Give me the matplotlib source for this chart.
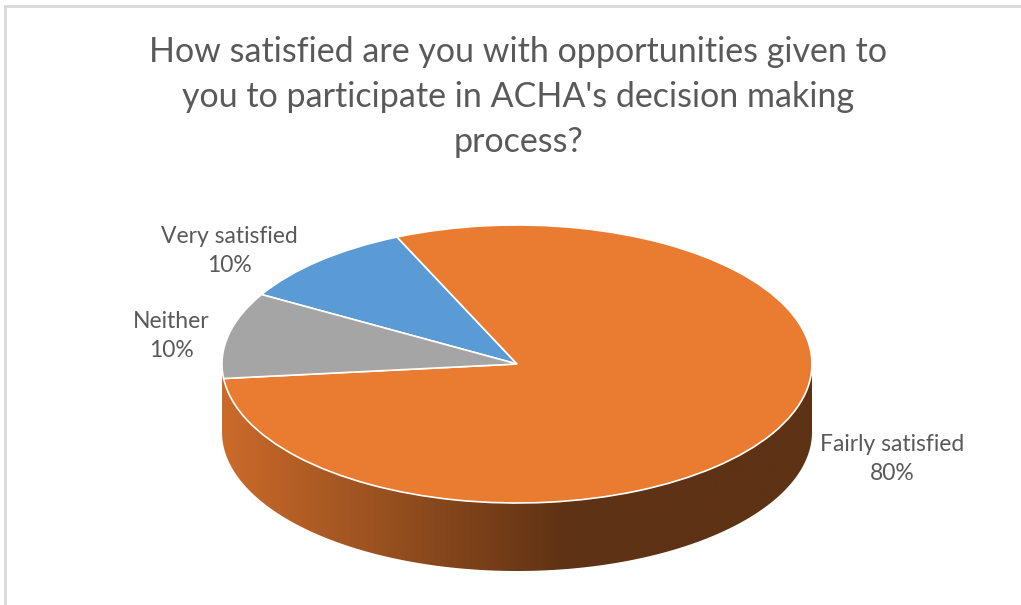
import numpy as np
import matplotlib.pyplot as plt
from matplotlib.patches import Polygon
from matplotlib.lines import Line2D

# survey answers, in the order the slices are drawn (clockwise)
labels = ["Very satisfied", "Fairly satisfied", "Neither"]
shares = [10, 80, 10]
colors = ["#5B9BD5", "#E97C31", "#A5A5A5"]

title = "How satisfied are you with opportunities given to\nyou to participate in ACHA's decision making\nprocess?"

W, H = 1021, 605
fig = plt.figure(figsize=(W / 100, H / 100), dpi=100)
fig.patch.set_facecolor("white")

# thin grey frame along the top and left edges
fig.add_artist(Line2D([5 / W, 1], [1 - 6 / H, 1 - 6 / H], color="#D9D9D9", lw=2))
fig.add_artist(Line2D([5 / W, 5 / W], [0, 1 - 6 / H], color="#D9D9D9", lw=2))

# flattened pie: unit circle squeezed into an ellipse
cx, cy, a, b = 517, 364, 295, 139
depth = 68 / b   # side wall height in pie units
ax = fig.add_axes([(cx - a) / W, 1 - (cy + b + 68) / H, 2 * a / W, (2 * b + 68) / H])
wedges, _ = ax.pie(shares, colors=colors, startangle=150, counterclock=False,
                   wedgeprops=dict(edgecolor="white", linewidth=1.2))
ax.set_aspect("auto")
ax.set_xlim(-1, 1)
ax.set_ylim(-1 - depth, 1)
for w in wedges:
    w.set_zorder(3)

# side wall of the front half with a light-to-dark shading
t = np.linspace(np.pi, 2 * np.pi, 200)
top = np.column_stack([np.cos(t), np.sin(t)])
bottom = np.column_stack([np.cos(t[::-1]), np.sin(t[::-1]) - depth])
wall = Polygon(np.vstack([top, bottom]), closed=True, facecolor="none",
               edgecolor="none", zorder=2)
ax.add_patch(wall)
grad_x = np.linspace(-1, 1, 400)
shade = np.clip((grad_x + 1) / 1.17, 0, 1)
c0 = np.array([0xCB, 0x6B, 0x2A]) / 255
c1 = np.array([0x5E, 0x32, 0x14]) / 255
rgb = c0[None, :] * (1 - shade[:, None]) + c1[None, :] * shade[:, None]
img = ax.imshow(rgb[None, :, :], extent=[-1, 1, -1 - depth, 0.1], aspect="auto",
                zorder=2, interpolation="bilinear")
img.set_clip_path(wall)

# category labels
txt = dict(fontsize=16.5, color="#595959", ha="center", va="center",
           family="Lato", linespacing=1.45)
label_pos = [(229, 251), (892, 459), (171, 336)]
for name, val, (px, py) in zip(labels, shares, label_pos):
    fig.text(px / W, 1 - py / H, f"{name}\n{val}%", **txt)

fig.text(518 / W, 1 - 97 / H, title, fontsize=24.5, color="#595959",
         ha="center", va="center", family="Lato", linespacing=1.5)

fig.savefig("out.png", dpi=100)
